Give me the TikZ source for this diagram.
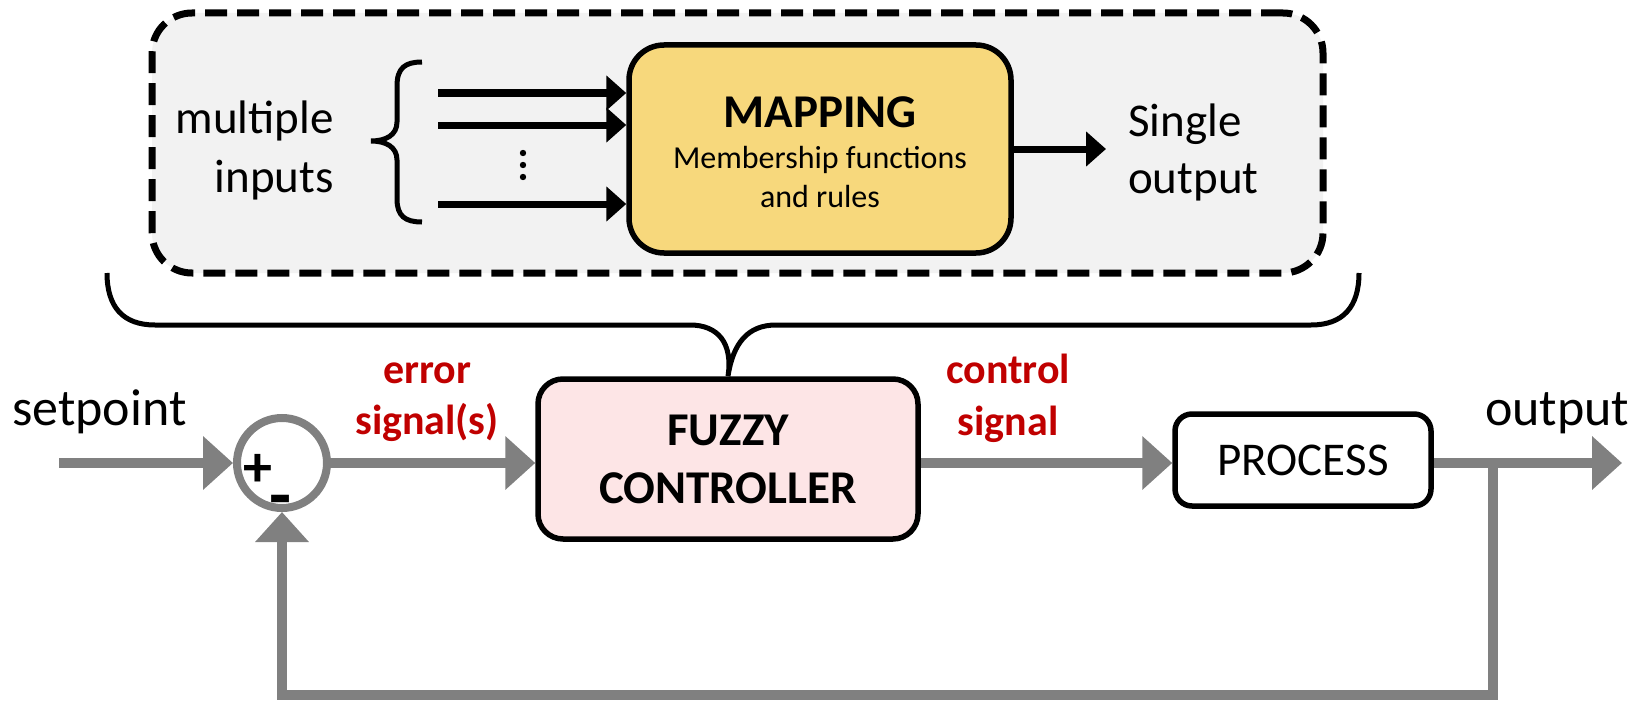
\documentclass[tikz,border=0pt]{standalone}
\usepackage{fontspec}
\setmainfont{Carlito}
\usetikzlibrary{arrows.meta}
\definecolor{panelgray}{HTML}{F2F2F2}
\definecolor{mapgold}{HTML}{F7D87C}
\definecolor{fuzzypink}{HTML}{FDE5E6}
\definecolor{sigred}{HTML}{C00000}
\definecolor{flowgray}{HTML}{808080}

\begin{document}
\begin{tikzpicture}[x=1pt, y=-1pt,
  panelbox/.style={draw=black, line width=7pt, dash pattern=on 22pt off 10pt,
    fill=panelgray, rounded corners=40pt, minimum width=1171pt, minimum height=260pt, inner sep=0pt},
  mapbox/.style={draw=black, line width=5.5pt, fill=mapgold, rounded corners=35pt,
    minimum width=382pt, minimum height=208pt, inner sep=0pt},
  fuzzybox/.style={draw=black, line width=5.5pt, fill=fuzzypink, rounded corners=25pt,
    minimum width=380pt, minimum height=160pt, align=center, inner sep=0pt,
    font=\bfseries\fontsize{47}{58}\selectfont},
  procbox/.style={draw=black, line width=5.5pt, fill=white, rounded corners=17pt,
    minimum width=256pt, minimum height=92pt, inner sep=0pt,
    font=\fontsize{47}{56}\selectfont},
  sumnode/.style={circle, draw=flowgray, line width=8pt, fill=white, minimum size=90pt, inner sep=0pt},
  lbl/.style={inner sep=0pt, font=\fontsize{47}{56}\selectfont},
  biglbl/.style={inner sep=0pt, font=\fontsize{52}{62}\selectfont},
  sublbl/.style={inner sep=0pt, font=\fontsize{32}{39}\selectfont},
  titlelbl/.style={inner sep=0pt, font=\bfseries\fontsize{47}{56}\selectfont},
  redlbl/.style={inner sep=0pt, text=sigred, font=\bfseries\fontsize{42}{51}\selectfont},
  pluslbl/.style={inner sep=0pt, font=\bfseries\fontsize{58}{58}\selectfont},
  minuslbl/.style={inner sep=0pt, font=\bfseries\fontsize{72}{72}\selectfont},
  blackarrow/.style={draw=black, line width=7pt, -{Triangle[length=20pt, width=34pt]}},
  flow/.style={draw=flowgray, line width=10pt, line join=miter, -{Triangle[length=30pt, width=52pt]}},
  bracepen/.style={draw=black, line width=5pt, line cap=butt},
]
\useasboundingbox (0,0) rectangle (1647,701);

% ---------- fuzzy mapping panel ----------
\node[panelbox] (panel) at (737.5,143) {};
\node[mapbox] (map) at (820,149) {};
\node[titlelbl, anchor=base] (maptitle) at (820,127) {MAPPING};
\node[sublbl, anchor=base] (mapsub1) at (820,168) {Membership functions};
\node[sublbl, anchor=base] (mapsub2) at (820,207) {and rules};

\node[lbl, anchor=base east] (multi1) at (334,133) {multiple};
\node[lbl, anchor=base east] (multi2) at (334,192) {inputs};
\node[lbl, anchor=base west] (single1) at (1128,136) {Single};
\node[lbl, anchor=base west] (single2) at (1128,193) {output};

% curly brace grouping the inputs
\draw[bracepen] (422,62) .. controls (405,62) and (397,68) .. (397,86)
  -- (397,122) .. controls (397,135) and (386,141) .. (371,141)
  .. controls (386,141) and (397,147) .. (397,160)
  -- (397,199) .. controls (397,216) and (405,222) .. (422,222);

% input arrows
\coordinate (in1) at (438,93);
\coordinate (in2) at (438,125);
\coordinate (in3) at (438,204);
\draw[blackarrow] (in1) -- (in1 -| map.west);
\draw[blackarrow] (in2) -- (in2 -| map.west);
\draw[blackarrow] (in3) -- (in3 -| map.west);
\fill (523,153) circle[radius=3.2pt];
\fill (523,165) circle[radius=3.2pt];
\fill (523,177) circle[radius=3.2pt];

% single output arrow
\coordinate (singletip) at (1106,149);
\draw[blackarrow] (map.east) -- (singletip);

% ---------- control loop ----------
\node[fuzzybox] (fuzzy) at (728,459) {FUZZY\\CONTROLLER};
\node[procbox] (process) at (1303,460) {PROCESS};
\node[sumnode] (sum) at (282,463) {};
\node[pluslbl] (plus) at (258,470) {+};
\node[minuslbl] (minus) at (281,507) {-};

% brace from the panel down to the controller
\draw[bracepen] (107,273) .. controls (107,307) and (123,325) .. (155,325)
  -- (690,325) .. controls (718,325) and (733,343) .. (fuzzy.north)
  .. controls (733,343) and (748,325) .. (776,325)
  -- (1311,325) .. controls (1343,325) and (1359,307) .. (1359,273);

\node[biglbl, anchor=base west] (setpoint) at (12,425) {setpoint};
\node[biglbl, anchor=base west] (outlbl) at (1485,425) {output};
\node[redlbl, anchor=base] (err1) at (427,383) {error};
\node[redlbl, anchor=base] (err2) at (427,434) {signal(s)};
\node[redlbl, anchor=base] (ctl1) at (1008,383) {control};
\node[redlbl, anchor=base] (ctl2) at (1008,435) {signal};

\coordinate (spstart) at (59,463);
\coordinate (outtip) at (1622,463);
\coordinate (branch) at (1493,463);
\coordinate (fbcorner) at (1493,695);

\draw[flow] (spstart) -- (sum.west);
\draw[flow] (sum.east) -- (sum.east -| fuzzy.west);
\draw[flow] (fuzzy.east |- sum.east) -- (process.west |- sum.east);
\draw[flow] (process.east |- sum.east) -- (outtip);
\draw[flow] (branch) -- (fbcorner) -| (sum.south);
\end{tikzpicture}
\end{document}
